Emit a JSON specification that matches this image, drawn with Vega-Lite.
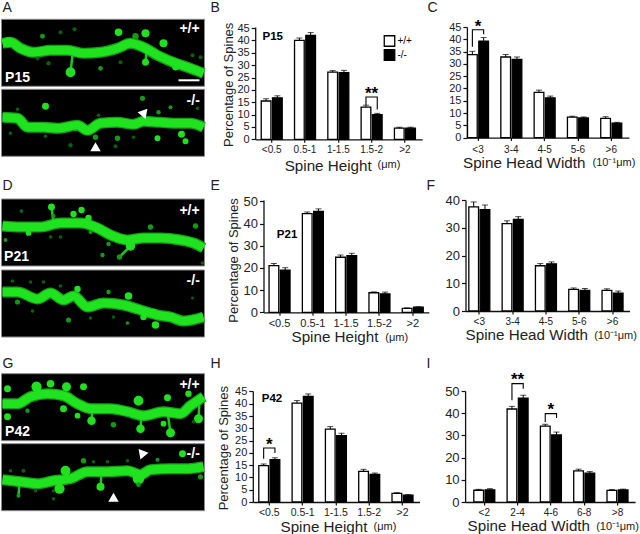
{"$schema":"https://vega.github.io/schema/vega-lite/v6.json","padding":{"left":-19.5,"top":0,"right":0,"bottom":0},"background":"white","config":{"font":"Liberation Sans","view":{"stroke":null},"axis":{"grid":false,"domainColor":"#111","domainWidth":1.3,"tickColor":"#111","tickWidth":1.2,"labelColor":"#222","titleColor":"#222","titleFontWeight":"normal","labelOverlap":false}},
"datasets":{
"bars":[
{"panel":"B","cat":"<0.5","geno":"+/+","val":15.5,"top":16.4},{"panel":"B","cat":"<0.5","geno":"-/-","val":16.8,"top":17.6},{"panel":"B","cat":"0.5-1","geno":"+/+","val":40,"top":41},{"panel":"B","cat":"0.5-1","geno":"-/-","val":42,"top":43.2},{"panel":"B","cat":"1-1.5","geno":"+/+","val":27.2,"top":27.8},{"panel":"B","cat":"1-1.5","geno":"-/-","val":27,"top":27.9},{"panel":"B","cat":"1.5-2","geno":"+/+","val":13,"top":13.8},{"panel":"B","cat":"1.5-2","geno":"-/-","val":10,"top":10.5},{"panel":"B","cat":">2","geno":"+/+","val":4.5,"top":4.9},{"panel":"B","cat":">2","geno":"-/-","val":4.5,"top":4.9},
{"panel":"C","cat":"<3","geno":"+/+","val":33.8,"top":35.1},{"panel":"C","cat":"<3","geno":"-/-","val":39.2,"top":40.7},{"panel":"C","cat":"3-4","geno":"+/+","val":32.8,"top":33.8},{"panel":"C","cat":"3-4","geno":"-/-","val":31.8,"top":32.8},{"panel":"C","cat":"4-5","geno":"+/+","val":18.4,"top":19.3},{"panel":"C","cat":"4-5","geno":"-/-","val":16.2,"top":16.9},{"panel":"C","cat":"5-6","geno":"+/+","val":8.3,"top":8.7},{"panel":"C","cat":"5-6","geno":"-/-","val":8,"top":8.4},{"panel":"C","cat":">6","geno":"+/+","val":7.8,"top":8.5},{"panel":"C","cat":">6","geno":"-/-","val":5.9,"top":6.2},
{"panel":"E","cat":"<0.5","geno":"+/+","val":21,"top":22},{"panel":"E","cat":"<0.5","geno":"-/-","val":19,"top":20.1},{"panel":"E","cat":"0.5-1","geno":"+/+","val":44.5,"top":45.2},{"panel":"E","cat":"0.5-1","geno":"-/-","val":45.5,"top":46.6},{"panel":"E","cat":"1-1.5","geno":"+/+","val":24.8,"top":25.8},{"panel":"E","cat":"1-1.5","geno":"-/-","val":25.5,"top":26.6},{"panel":"E","cat":"1.5-2","geno":"+/+","val":8.8,"top":9.2},{"panel":"E","cat":"1.5-2","geno":"-/-","val":8.3,"top":9.1},{"panel":"E","cat":">2","geno":"+/+","val":1.8,"top":2},{"panel":"E","cat":">2","geno":"-/-","val":2.3,"top":2.5},
{"panel":"F","cat":"<3","geno":"+/+","val":37.5,"top":39.3},{"panel":"F","cat":"<3","geno":"-/-","val":36.5,"top":38.2},{"panel":"F","cat":"3-4","geno":"+/+","val":31.5,"top":32.5},{"panel":"F","cat":"3-4","geno":"-/-","val":33,"top":34},{"panel":"F","cat":"4-5","geno":"+/+","val":16.3,"top":17.1},{"panel":"F","cat":"4-5","geno":"-/-","val":17,"top":17.7},{"panel":"F","cat":"5-6","geno":"+/+","val":7.8,"top":8.3},{"panel":"F","cat":"5-6","geno":"-/-","val":7.4,"top":8.1},{"panel":"F","cat":">6","geno":"+/+","val":7.4,"top":8},{"panel":"F","cat":">6","geno":"-/-","val":6.4,"top":7.2},
{"panel":"H","cat":"<0.5","geno":"+/+","val":14.8,"top":15.5},{"panel":"H","cat":"<0.5","geno":"-/-","val":17.2,"top":18},{"panel":"H","cat":"0.5-1","geno":"+/+","val":40.3,"top":41.3},{"panel":"H","cat":"0.5-1","geno":"-/-","val":43,"top":44},{"panel":"H","cat":"1-1.5","geno":"+/+","val":29.7,"top":30.7},{"panel":"H","cat":"1-1.5","geno":"-/-","val":27,"top":28},{"panel":"H","cat":"1.5-2","geno":"+/+","val":12.5,"top":13.3},{"panel":"H","cat":"1.5-2","geno":"-/-","val":11.2,"top":11.8},{"panel":"H","cat":">2","geno":"+/+","val":3.5,"top":3.8},{"panel":"H","cat":">2","geno":"-/-","val":2.8,"top":3},
{"panel":"I","cat":"<2","geno":"+/+","val":5.3,"top":5.7},{"panel":"I","cat":"<2","geno":"-/-","val":5.5,"top":6},{"panel":"I","cat":"2-4","geno":"+/+","val":41.9,"top":43.1},{"panel":"I","cat":"2-4","geno":"-/-","val":46.8,"top":48.1},{"panel":"I","cat":"4-6","geno":"+/+","val":34.2,"top":35},{"panel":"I","cat":"4-6","geno":"-/-","val":30.2,"top":31.5},{"panel":"I","cat":"6-8","geno":"+/+","val":14,"top":14.8},{"panel":"I","cat":"6-8","geno":"-/-","val":13,"top":13.7},{"panel":"I","cat":">8","geno":"+/+","val":5.2,"top":5.6},{"panel":"I","cat":">8","geno":"-/-","val":5.4,"top":5.8}],
"brackets":[
{"panel":"B","br":"1","cat":"1.5-2","geno":"+/+","y":13.9,"ord":1},{"panel":"B","br":"1","cat":"1.5-2","geno":"+/+","y":17.1,"ord":2},{"panel":"B","br":"1","cat":"1.5-2","geno":"-/-","y":17.1,"ord":3},{"panel":"B","br":"1","cat":"1.5-2","geno":"-/-","y":12.1,"ord":4},
{"panel":"C","br":"1","cat":"<3","geno":"+/+","y":37,"ord":1},{"panel":"C","br":"1","cat":"<3","geno":"+/+","y":43.9,"ord":2},{"panel":"C","br":"1","cat":"<3","geno":"-/-","y":43.9,"ord":3},{"panel":"C","br":"1","cat":"<3","geno":"-/-","y":42,"ord":4},
{"panel":"H","br":"1","cat":"<0.5","geno":"+/+","y":17.6,"ord":1},{"panel":"H","br":"1","cat":"<0.5","geno":"+/+","y":22,"ord":2},{"panel":"H","br":"1","cat":"<0.5","geno":"-/-","y":22,"ord":3},{"panel":"H","br":"1","cat":"<0.5","geno":"-/-","y":20,"ord":4},
{"panel":"I","br":"1","cat":"2-4","geno":"+/+","y":45.8,"ord":1},{"panel":"I","br":"1","cat":"2-4","geno":"+/+","y":53.3,"ord":2},{"panel":"I","br":"1","cat":"2-4","geno":"-/-","y":53.3,"ord":3},{"panel":"I","br":"1","cat":"2-4","geno":"-/-","y":51,"ord":4},
{"panel":"I","br":"2","cat":"4-6","geno":"+/+","y":36,"ord":1},{"panel":"I","br":"2","cat":"4-6","geno":"+/+","y":39.8,"ord":2},{"panel":"I","br":"2","cat":"4-6","geno":"-/-","y":39.8,"ord":3},{"panel":"I","br":"2","cat":"4-6","geno":"-/-","y":37.8,"ord":4}],
"stars":[{"panel":"B","cat":"1.5-2","y":18.4,"label":"**"},{"panel":"C","cat":"<3","y":45,"label":"*"},{"panel":"H","cat":"<0.5","y":23.4,"label":"*"},{"panel":"I","cat":"2-4","y":54.8,"label":"**"},{"panel":"I","cat":"4-6","y":41.3,"label":"*"}],
"row1":[
{"type":"frame","x":0,"x2":209.3,"y":0,"y2":177},{"type":"image","x":1,"x2":204,"y":19,"y2":86},{"type":"image","x":1,"x2":204,"y":89,"y2":156},
{"type":"shaft","seg":"a","x":2,"y":43},{"type":"shaft","seg":"a","x":10,"y":42},{"type":"shaft","seg":"a","x":20,"y":48},{"type":"shaft","seg":"a","x":33,"y":52},{"type":"shaft","seg":"a","x":50,"y":50},{"type":"shaft","seg":"a","x":67,"y":50},{"type":"shaft","seg":"a","x":83,"y":53},{"type":"shaft","seg":"a","x":100,"y":52},{"type":"shaft","seg":"a","x":117,"y":48},{"type":"shaft","seg":"a","x":130,"y":43},{"type":"shaft","seg":"a","x":143,"y":47},{"type":"shaft","seg":"a","x":157,"y":55},{"type":"shaft","seg":"a","x":173,"y":62},{"type":"shaft","seg":"a","x":190,"y":68},{"type":"shaft","seg":"a","x":203,"y":73},
{"type":"shaft","seg":"b","x":2,"y":117},{"type":"shaft","seg":"b","x":17,"y":118},{"type":"shaft","seg":"b","x":27,"y":127},{"type":"shaft","seg":"b","x":43,"y":127},{"type":"shaft","seg":"b","x":57,"y":128},{"type":"shaft","seg":"b","x":77,"y":125},{"type":"shaft","seg":"b","x":87,"y":130},{"type":"shaft","seg":"b","x":100,"y":123},{"type":"shaft","seg":"b","x":117,"y":122},{"type":"shaft","seg":"b","x":133,"y":124},{"type":"shaft","seg":"b","x":143,"y":121},{"type":"shaft","seg":"b","x":160,"y":122},{"type":"shaft","seg":"b","x":177,"y":123},{"type":"shaft","seg":"b","x":190,"y":123},{"type":"shaft","seg":"b","x":203,"y":127},
{"type":"neck","seg":"n1","x":70,"y":72},{"type":"neck","seg":"n1","x":72,"y":55},{"type":"neck","seg":"n2","x":145,"y":62},{"type":"neck","seg":"n2","x":146,"y":50},
{"type":"spine","x":8,"y":42,"area":60,"level":"bright"},{"type":"spine","x":70,"y":72,"area":60,"level":"bright"},{"type":"spine","x":118,"y":32,"area":35,"level":"bright"},{"type":"spine","x":145,"y":33,"area":40,"level":"bright"},{"type":"spine","x":135,"y":36,"area":25,"level":"mid"},{"type":"spine","x":163,"y":43,"area":40,"level":"bright"},{"type":"spine","x":42,"y":36,"area":15,"level":"mid"},{"type":"spine","x":60,"y":32,"area":10,"level":"dim"},{"type":"spine","x":74,"y":29,"area":10,"level":"dim"},{"type":"spine","x":48,"y":63,"area":12,"level":"dim"},{"type":"spine","x":100,"y":68,"area":14,"level":"mid"},{"type":"spine","x":120,"y":62,"area":10,"level":"dim"},{"type":"spine","x":145,"y":62,"area":30,"level":"bright"},{"type":"spine","x":192,"y":55,"area":10,"level":"dim"},{"type":"spine","x":200,"y":57,"area":10,"level":"dim"},{"type":"spine","x":37,"y":58,"area":10,"level":"dim"},{"type":"spine","x":175,"y":67,"area":25,"level":"bright"},
{"type":"spine","x":45,"y":106,"area":30,"level":"bright"},{"type":"spine","x":142,"y":98,"area":16,"level":"mid"},{"type":"spine","x":158,"y":112,"area":12,"level":"mid"},{"type":"spine","x":170,"y":107,"area":10,"level":"mid"},{"type":"spine","x":98,"y":115,"area":8,"level":"dim"},{"type":"spine","x":17,"y":109,"area":8,"level":"dim"},{"type":"spine","x":10,"y":133,"area":8,"level":"dim"},{"type":"spine","x":45,"y":136,"area":8,"level":"dim"},{"type":"spine","x":70,"y":145,"area":12,"level":"dim"},{"type":"spine","x":95,"y":137,"area":18,"level":"mid"},{"type":"spine","x":117,"y":138,"area":18,"level":"mid"},{"type":"spine","x":115,"y":146,"area":10,"level":"dim"},{"type":"spine","x":157,"y":138,"area":22,"level":"bright"},{"type":"spine","x":181,"y":134,"area":30,"level":"bright"},{"type":"spine","x":185,"y":141,"area":22,"level":"bright"},{"type":"spine","x":197,"y":108,"area":8,"level":"dim"},{"type":"spine","x":133,"y":137,"area":8,"level":"dim"},
{"type":"scalebar","x":178,"x2":199,"y":79,"y2":81},
{"type":"arrow","x":143,"y":113,"angle":90},{"type":"arrow","x":95,"y":148,"angle":190},
{"type":"overlay","x":189,"y":29,"label":"+/+"},{"type":"overlay","x":192.7,"y":101,"label":"-/-"},{"type":"overlay","x":17,"y":78,"label":"P15"},
{"type":"letter","x":2,"y":8,"label":"A"},{"type":"letter","x":210,"y":8,"label":"B"},{"type":"letter","x":427,"y":8,"label":"C"}],
"row2":[
{"type":"frame","x":0,"x2":226.7,"y":178,"y2":355},{"type":"image","x":1,"x2":204,"y":199,"y2":266},{"type":"image","x":1,"x2":204,"y":270,"y2":337},
{"type":"shaft","seg":"a","x":2,"y":226},{"type":"shaft","seg":"a","x":20,"y":227},{"type":"shaft","seg":"a","x":40,"y":227},{"type":"shaft","seg":"a","x":60,"y":223},{"type":"shaft","seg":"a","x":80,"y":223},{"type":"shaft","seg":"a","x":97,"y":228},{"type":"shaft","seg":"a","x":110,"y":235},{"type":"shaft","seg":"a","x":127,"y":240},{"type":"shaft","seg":"a","x":143,"y":238},{"type":"shaft","seg":"a","x":160,"y":238},{"type":"shaft","seg":"a","x":180,"y":240},{"type":"shaft","seg":"a","x":193,"y":243},{"type":"shaft","seg":"a","x":203,"y":248},
{"type":"shaft","seg":"b","x":2,"y":292},{"type":"shaft","seg":"b","x":17,"y":292},{"type":"shaft","seg":"b","x":37,"y":299},{"type":"shaft","seg":"b","x":50,"y":293},{"type":"shaft","seg":"b","x":63,"y":300},{"type":"shaft","seg":"b","x":73,"y":296},{"type":"shaft","seg":"b","x":87,"y":307},{"type":"shaft","seg":"b","x":103,"y":303},{"type":"shaft","seg":"b","x":123,"y":305},{"type":"shaft","seg":"b","x":140,"y":310},{"type":"shaft","seg":"b","x":157,"y":315},{"type":"shaft","seg":"b","x":170,"y":317},{"type":"shaft","seg":"b","x":183,"y":321},{"type":"shaft","seg":"b","x":203,"y":317},
{"type":"neck","seg":"n1","x":51,"y":207},{"type":"neck","seg":"n1","x":53,"y":223},{"type":"neck","seg":"n2","x":119,"y":257},{"type":"neck","seg":"n2","x":130,"y":246},
{"type":"spine","x":51,"y":207,"area":30,"level":"bright"},{"type":"spine","x":81,"y":210,"area":25,"level":"bright"},{"type":"spine","x":73,"y":214,"area":25,"level":"bright"},{"type":"spine","x":88,"y":218,"area":25,"level":"bright"},{"type":"spine","x":53,"y":216,"area":10,"level":"mid"},{"type":"spine","x":21,"y":211,"area":10,"level":"dim"},{"type":"spine","x":28,"y":233,"area":20,"level":"bright"},{"type":"spine","x":150,"y":227,"area":18,"level":"mid"},{"type":"spine","x":195,"y":226,"area":18,"level":"mid"},{"type":"spine","x":130,"y":246,"area":55,"level":"bright"},{"type":"spine","x":108,"y":244,"area":12,"level":"mid"},{"type":"spine","x":102,"y":255,"area":12,"level":"mid"},{"type":"spine","x":119,"y":257,"area":18,"level":"mid"},{"type":"spine","x":5,"y":240,"area":10,"level":"mid"},{"type":"spine","x":50,"y":237,"area":8,"level":"dim"},{"type":"spine","x":60,"y":237,"area":8,"level":"dim"},{"type":"spine","x":90,"y":232,"area":10,"level":"mid"},{"type":"spine","x":202,"y":263,"area":8,"level":"dim"},
{"type":"spine","x":77,"y":289,"area":25,"level":"bright"},{"type":"spine","x":128,"y":296,"area":35,"level":"bright"},{"type":"spine","x":108,"y":292,"area":12,"level":"mid"},{"type":"spine","x":17,"y":302,"area":16,"level":"mid"},{"type":"spine","x":12,"y":281,"area":8,"level":"dim"},{"type":"spine","x":30,"y":282,"area":8,"level":"dim"},{"type":"spine","x":43,"y":282,"area":8,"level":"dim"},{"type":"spine","x":60,"y":286,"area":8,"level":"dim"},{"type":"spine","x":32,"y":311,"area":8,"level":"dim"},{"type":"spine","x":68,"y":320,"area":16,"level":"mid"},{"type":"spine","x":90,"y":318,"area":8,"level":"dim"},{"type":"spine","x":113,"y":317,"area":8,"level":"dim"},{"type":"spine","x":127,"y":323,"area":8,"level":"mid"},{"type":"spine","x":155,"y":325,"area":35,"level":"bright"},{"type":"spine","x":143,"y":317,"area":25,"level":"bright"},{"type":"spine","x":153,"y":312,"area":25,"level":"bright"},{"type":"spine","x":192,"y":298,"area":6,"level":"dim"},
{"type":"overlay","x":189,"y":210.7,"label":"+/+"},{"type":"overlay","x":192.7,"y":281,"label":"-/-"},{"type":"overlay","x":16,"y":257,"label":"P21"},
{"type":"letter","x":2,"y":186,"label":"D"},{"type":"letter","x":210,"y":186,"label":"E"},{"type":"letter","x":426,"y":186,"label":"F"}],
"row3":[
{"type":"frame","x":0,"x2":207,"y":356,"y2":534},{"type":"image","x":1,"x2":204,"y":374,"y2":441},{"type":"image","x":1,"x2":204,"y":444,"y2":511},
{"type":"shaft","seg":"a","x":2,"y":404},{"type":"shaft","seg":"a","x":17,"y":404},{"type":"shaft","seg":"a","x":30,"y":397},{"type":"shaft","seg":"a","x":47,"y":394},{"type":"shaft","seg":"a","x":63,"y":396},{"type":"shaft","seg":"a","x":77,"y":404},{"type":"shaft","seg":"a","x":90,"y":409},{"type":"shaft","seg":"a","x":110,"y":409},{"type":"shaft","seg":"a","x":127,"y":412},{"type":"shaft","seg":"a","x":143,"y":416},{"type":"shaft","seg":"a","x":163,"y":412},{"type":"shaft","seg":"a","x":180,"y":414},{"type":"shaft","seg":"a","x":190,"y":406},{"type":"shaft","seg":"a","x":203,"y":397},
{"type":"shaft","seg":"b","x":2,"y":480},{"type":"shaft","seg":"b","x":20,"y":482},{"type":"shaft","seg":"b","x":37,"y":484},{"type":"shaft","seg":"b","x":53,"y":481},{"type":"shaft","seg":"b","x":70,"y":479},{"type":"shaft","seg":"b","x":87,"y":472},{"type":"shaft","seg":"b","x":107,"y":472},{"type":"shaft","seg":"b","x":127,"y":471},{"type":"shaft","seg":"b","x":140,"y":475},{"type":"shaft","seg":"b","x":150,"y":470},{"type":"shaft","seg":"b","x":170,"y":469},{"type":"shaft","seg":"b","x":187,"y":469},{"type":"shaft","seg":"b","x":203,"y":467},
{"type":"neck","seg":"n1","x":140,"y":429},{"type":"neck","seg":"n1","x":141,"y":414},{"type":"neck","seg":"n2","x":91,"y":421},{"type":"neck","seg":"n2","x":92,"y":408},{"type":"neck","seg":"n3","x":36,"y":387},{"type":"neck","seg":"n3","x":37,"y":396},{"type":"neck","seg":"n4","x":167,"y":412},{"type":"neck","seg":"n4","x":170,"y":433},{"type":"neck","seg":"n5","x":198,"y":419},{"type":"neck","seg":"n5","x":199,"y":402},{"type":"neck","seg":"n6","x":100,"y":487},{"type":"neck","seg":"n6","x":101,"y":473},{"type":"neck","seg":"n7","x":18,"y":496},{"type":"neck","seg":"n7","x":19,"y":483},
{"type":"spine","x":36,"y":387,"area":65,"level":"bright"},{"type":"spine","x":50,"y":384,"area":35,"level":"bright"},{"type":"spine","x":66,"y":387,"area":50,"level":"bright"},{"type":"spine","x":83,"y":387,"area":30,"level":"bright"},{"type":"spine","x":7,"y":389,"area":30,"level":"bright"},{"type":"spine","x":138,"y":401,"area":60,"level":"bright"},{"type":"spine","x":167,"y":398,"area":30,"level":"bright"},{"type":"spine","x":63,"y":409,"area":30,"level":"bright"},{"type":"spine","x":27,"y":411,"area":12,"level":"mid"},{"type":"spine","x":7,"y":417,"area":30,"level":"bright"},{"type":"spine","x":77,"y":416,"area":20,"level":"bright"},{"type":"spine","x":91,"y":421,"area":45,"level":"bright"},{"type":"spine","x":113,"y":425,"area":18,"level":"mid"},{"type":"spine","x":140,"y":429,"area":45,"level":"bright"},{"type":"spine","x":170,"y":433,"area":50,"level":"bright"},{"type":"spine","x":163,"y":424,"area":20,"level":"bright"},{"type":"spine","x":198,"y":419,"area":50,"level":"bright"},{"type":"spine","x":188,"y":394,"area":25,"level":"bright"},{"type":"spine","x":193,"y":422,"area":8,"level":"dim"},
{"type":"spine","x":65,"y":471,"area":60,"level":"bright"},{"type":"spine","x":59,"y":489,"area":65,"level":"bright"},{"type":"spine","x":138,"y":479,"area":80,"level":"bright"},{"type":"spine","x":83,"y":461,"area":18,"level":"mid"},{"type":"spine","x":100,"y":487,"area":40,"level":"bright"},{"type":"spine","x":23,"y":471,"area":10,"level":"dim"},{"type":"spine","x":10,"y":471,"area":8,"level":"dim"},{"type":"spine","x":18,"y":496,"area":10,"level":"mid"},{"type":"spine","x":35,"y":491,"area":8,"level":"dim"},{"type":"spine","x":53,"y":491,"area":8,"level":"dim"},{"type":"spine","x":127,"y":461,"area":8,"level":"dim"},{"type":"spine","x":157,"y":460,"area":10,"level":"mid"},{"type":"spine","x":182,"y":454,"area":30,"level":"bright"},{"type":"spine","x":200,"y":477,"area":16,"level":"mid"},{"type":"spine","x":107,"y":462,"area":8,"level":"dim"},{"type":"spine","x":138,"y":485,"area":14,"level":"mid"},{"type":"spine","x":53,"y":499,"area":8,"level":"dim"},{"type":"spine","x":93,"y":462,"area":8,"level":"dim"},
{"type":"arrow","x":142,"y":454,"angle":110},{"type":"arrow","x":113,"y":499,"angle":10},
{"type":"overlay","x":189,"y":385.7,"label":"+/+"},{"type":"overlay","x":192.7,"y":454,"label":"-/-"},{"type":"overlay","x":17,"y":432,"label":"P42"},
{"type":"letter","x":2,"y":364,"label":"G"},{"type":"letter","x":210,"y":364,"label":"H"},{"type":"letter","x":426,"y":364,"label":"I"}]
},
"vconcat":[
{"hconcat":[
{"width":209.3,"height":112.3,"data":{"name":"row1"},"encoding":{"x":{"field":"x","type":"quantitative","axis":null,"scale":{"domain":[0,209.3],"nice":false,"zero":false}},"y":{"field":"y","type":"quantitative","axis":null,"scale":{"domain":[26.7,139],"reverse":true,"nice":false,"zero":false}}},
"layer":[
{"transform":[{"filter":"datum.type=='frame'"}],"mark":{"type":"rect","fill":"white","opacity":0},"encoding":{"x2":{"field":"x2"},"y2":{"field":"y2"}}},
{"transform":[{"filter":"datum.type=='image'"}],"mark":{"type":"rect","fill":"black","stroke":"#8a8a8a","strokeWidth":1},"encoding":{"x2":{"field":"x2"},"y2":{"field":"y2"}}},
{"transform":[{"filter":"datum.type=='shaft'"}],"mark":{"type":"line","interpolate":"monotone","color":"#12a012","strokeWidth":11,"strokeCap":"butt"},"encoding":{"detail":{"field":"seg"}}},
{"transform":[{"filter":"datum.type=='neck'"}],"mark":{"type":"line","color":"#18c818","strokeWidth":2.5},"encoding":{"detail":{"field":"seg"}}},
{"transform":[{"filter":"datum.type=='spine'"}],"mark":{"type":"point","filled":true,"opacity":1},"encoding":{"size":{"field":"area","type":"quantitative","legend":null,"scale":{"domain":[0,80],"range":[0,130]}},"color":{"field":"level","type":"nominal","legend":null,"scale":{"domain":["bright","mid","dim"],"range":["#20e020","#149a14","#0b5f0b"]}}}},
{"transform":[{"filter":"datum.type=='shaft'"}],"mark":{"type":"line","interpolate":"monotone","color":"#1fe31f","strokeWidth":8.5,"strokeCap":"butt"},"encoding":{"detail":{"field":"seg"}}},
{"transform":[{"filter":"datum.type=='scalebar'"}],"mark":{"type":"rect","fill":"white"},"encoding":{"x2":{"field":"x2"},"y2":{"field":"y2"}}},
{"transform":[{"filter":"datum.type=='arrow'"}],"mark":{"type":"point","shape":"triangle","filled":true,"color":"white","opacity":1,"size":110},"encoding":{"angle":{"field":"angle","type":"quantitative","legend":null,"scale":{"type":"identity"}}}},
{"transform":[{"filter":"datum.type=='overlay'"}],"mark":{"type":"text","color":"white","fontWeight":"bold","fontSize":14,"align":"center","baseline":"middle"},"encoding":{"text":{"field":"label"}}},
{"transform":[{"filter":"datum.type=='letter'"}],"mark":{"type":"text","color":"#222","fontSize":14,"align":"left","baseline":"middle"},"encoding":{"text":{"field":"label"}}}
]},
{"width":167,"height":112.3,"data":{"name":"bars"},"transform":[{"filter":"datum.panel=='B'"}],
"encoding":{"x":{"field":"cat","type":"nominal","sort":null,"scale":{"domain":["<0.5","0.5-1","1-1.5","1.5-2",">2"],"paddingInner":0.37,"paddingOuter":0.1925,"align":0.47},"axis":{"labelAngle":0,"tickSize":3,"labelPadding":2,"labelFontSize":10,"title":"Spine Height","titleFontSize":15.2,"titleX":72.5,"titleY":26,"titleBaseline":"middle"}}},
"layer":[
{"mark":{"type":"bar","stroke":"black","strokeWidth":1.3},"encoding":{"xOffset":{"field":"geno","scale":{"domain":["+/+","-/-"],"paddingInner":0.14}},"y":{"field":"val","type":"quantitative","scale":{"domain":[0,45.45],"nice":false},"axis":{"values":[0,5,10,15,20,25,30,35,40,45],"tickSize":4,"labelFontSize":11,"labelPadding":2,"title":"Percentage of Spines","titleFontSize":13,"titleX":-27,"titleY":57.3,"titleBaseline":"middle"}},"fill":{"field":"geno","type":"nominal","scale":{"domain":["+/+","-/-"],"range":["white","black"]},"legend":{"orient":"none","legendX":383,"legendY":8,"title":null,"symbolType":"square","symbolSize":110,"symbolStrokeColor":"black","symbolStrokeWidth":1.3,"labelFontSize":10,"labelOffset":2,"rowPadding":-3}}}},
{"mark":{"type":"rule","color":"black","strokeWidth":1},"encoding":{"xOffset":{"field":"geno","scale":{"domain":["+/+","-/-"],"paddingInner":0.14}},"y":{"field":"val","type":"quantitative","axis":{"values":[0,5,10,15,20,25,30,35,40,45]}},"y2":{"field":"top"}}},
{"mark":{"type":"tick","color":"black","size":6,"thickness":1},"encoding":{"xOffset":{"field":"geno","scale":{"domain":["+/+","-/-"],"paddingInner":0.14}},"y":{"field":"top","type":"quantitative","axis":{"values":[0,5,10,15,20,25,30,35,40,45]}}}},
{"data":{"name":"brackets"},"transform":[{"filter":"datum.panel=='B'"}],"mark":{"type":"line","color":"black","strokeWidth":1.1},"encoding":{"xOffset":{"field":"geno","scale":{"domain":["+/+","-/-"],"paddingInner":0.14}},"y":{"field":"y","type":"quantitative","axis":{"values":[0,5,10,15,20,25,30,35,40,45]}},"detail":{"field":"br"},"order":{"field":"ord"}}},
{"data":{"name":"stars"},"transform":[{"filter":"datum.panel=='B'"}],"mark":{"type":"text","fontSize":17,"fontWeight":"bold","color":"black","baseline":"middle"},"encoding":{"y":{"field":"y","type":"quantitative","axis":{"values":[0,5,10,15,20,25,30,35,40,45]}},"text":{"field":"label"}}},
{"data":{"values":[{"cat":">2","y":-10.6,"label":"(μm)"}]},"mark":{"type":"text","fontSize":11,"color":"#222","dx":-16,"baseline":"middle"},"encoding":{"y":{"field":"y","type":"quantitative","axis":{"values":[0,5,10,15,20,25,30,35,40,45]}},"text":{"field":"label"}}},
{"data":{"values":[{"cat":"<0.5","y":41.4,"label":"P15"}]},"mark":{"type":"text","fontSize":11.5,"fontWeight":"bold","color":"black","dx":1,"baseline":"middle"},"encoding":{"y":{"field":"y","type":"quantitative","axis":{"values":[0,5,10,15,20,25,30,35,40,45]}},"text":{"field":"label"}}}
]},
{"width":162,"height":110.6,"data":{"name":"bars"},"transform":[{"filter":"datum.panel=='C'"}],
"encoding":{"x":{"field":"cat","type":"nominal","sort":null,"scale":{"domain":["<3","3-4","4-5","5-6",">6"],"paddingInner":0.37,"paddingOuter":0.117,"align":0.08},"axis":{"labelAngle":0,"tickSize":3,"labelPadding":4,"labelFontSize":10,"title":"Spine Head Width","titleFontSize":15.2,"titleX":56.8,"titleY":25,"titleBaseline":"middle"}}},
"layer":[
{"mark":{"type":"bar","stroke":"black","strokeWidth":1.3},"encoding":{"xOffset":{"field":"geno","scale":{"domain":["+/+","-/-"],"paddingInner":0.14}},"y":{"field":"val","type":"quantitative","scale":{"domain":[0,45],"nice":false},"axis":{"values":[0,5,10,15,20,25,30,35,40,45],"tickSize":4,"labelFontSize":11,"labelPadding":2,"title":null}},"fill":{"field":"geno","type":"nominal","scale":{"domain":["+/+","-/-"],"range":["white","black"]},"legend":null}}},
{"mark":{"type":"rule","color":"black","strokeWidth":1},"encoding":{"xOffset":{"field":"geno","scale":{"domain":["+/+","-/-"],"paddingInner":0.14}},"y":{"field":"val","type":"quantitative","axis":{"values":[0,5,10,15,20,25,30,35,40,45]}},"y2":{"field":"top"}}},
{"mark":{"type":"tick","color":"black","size":6,"thickness":1},"encoding":{"xOffset":{"field":"geno","scale":{"domain":["+/+","-/-"],"paddingInner":0.14}},"y":{"field":"top","type":"quantitative","axis":{"values":[0,5,10,15,20,25,30,35,40,45]}}}},
{"data":{"name":"brackets"},"transform":[{"filter":"datum.panel=='C'"}],"mark":{"type":"line","color":"black","strokeWidth":1.1},"encoding":{"xOffset":{"field":"geno","scale":{"domain":["+/+","-/-"],"paddingInner":0.14}},"y":{"field":"y","type":"quantitative","axis":{"values":[0,5,10,15,20,25,30,35,40,45]}},"detail":{"field":"br"},"order":{"field":"ord"}}},
{"data":{"name":"stars"},"transform":[{"filter":"datum.panel=='C'"}],"mark":{"type":"text","fontSize":17,"fontWeight":"bold","color":"black","baseline":"middle"},"encoding":{"y":{"field":"y","type":"quantitative","axis":{"values":[0,5,10,15,20,25,30,35,40,45]}},"text":{"field":"label"}}},
{"data":{"values":[{"cat":">6","y":-10.4,"label":"(10⁻¹μm)"}]},"mark":{"type":"text","fontSize":11,"color":"#222","dx":2.7,"baseline":"middle"},"encoding":{"y":{"field":"y","type":"quantitative","axis":{"values":[0,5,10,15,20,25,30,35,40,45]}},"text":{"field":"label"}}}
]}
],"spacing":44.7,"bounds":"flush"},
{"hconcat":[
{"width":226.7,"height":112.3,"data":{"name":"row2"},"encoding":{"x":{"field":"x","type":"quantitative","axis":null,"scale":{"domain":[0,226.7],"nice":false,"zero":false}},"y":{"field":"y","type":"quantitative","axis":null,"scale":{"domain":[200,312.3],"reverse":true,"nice":false,"zero":false}}},
"layer":[
{"transform":[{"filter":"datum.type=='frame'"}],"mark":{"type":"rect","fill":"white","opacity":0},"encoding":{"x2":{"field":"x2"},"y2":{"field":"y2"}}},
{"transform":[{"filter":"datum.type=='image'"}],"mark":{"type":"rect","fill":"black","stroke":"#8a8a8a","strokeWidth":1},"encoding":{"x2":{"field":"x2"},"y2":{"field":"y2"}}},
{"transform":[{"filter":"datum.type=='shaft'"}],"mark":{"type":"line","interpolate":"monotone","color":"#12a012","strokeWidth":11,"strokeCap":"butt"},"encoding":{"detail":{"field":"seg"}}},
{"transform":[{"filter":"datum.type=='neck'"}],"mark":{"type":"line","color":"#18c818","strokeWidth":2.5},"encoding":{"detail":{"field":"seg"}}},
{"transform":[{"filter":"datum.type=='spine'"}],"mark":{"type":"point","filled":true,"opacity":1},"encoding":{"size":{"field":"area","type":"quantitative","legend":null,"scale":{"domain":[0,80],"range":[0,130]}},"color":{"field":"level","type":"nominal","legend":null,"scale":{"domain":["bright","mid","dim"],"range":["#20e020","#149a14","#0b5f0b"]}}}},
{"transform":[{"filter":"datum.type=='shaft'"}],"mark":{"type":"line","interpolate":"monotone","color":"#1fe31f","strokeWidth":8.5,"strokeCap":"butt"},"encoding":{"detail":{"field":"seg"}}},
{"transform":[{"filter":"datum.type=='overlay'"}],"mark":{"type":"text","color":"white","fontWeight":"bold","fontSize":14,"align":"center","baseline":"middle"},"encoding":{"text":{"field":"label"}}},
{"transform":[{"filter":"datum.type=='letter'"}],"mark":{"type":"text","color":"#222","fontSize":14,"align":"left","baseline":"middle"},"encoding":{"text":{"field":"label"}}}
]},
{"width":165.3,"height":112.3,"data":{"name":"bars"},"transform":[{"filter":"datum.panel=='E'"}],
"encoding":{"x":{"field":"cat","type":"nominal","sort":null,"scale":{"domain":["<0.5","0.5-1","1-1.5","1.5-2",">2"],"paddingInner":0.37,"paddingOuter":0.167,"align":0.5},"axis":{"labelAngle":0,"tickSize":3,"labelPadding":2,"labelFontSize":11,"title":"Spine Height","titleFontSize":15.2,"titleX":71,"titleY":23.7,"titleBaseline":"middle"}}},
"layer":[
{"mark":{"type":"bar","stroke":"black","strokeWidth":1.3},"encoding":{"xOffset":{"field":"geno","scale":{"domain":["+/+","-/-"],"paddingInner":0.14}},"y":{"field":"val","type":"quantitative","scale":{"domain":[0,50.6],"nice":false},"axis":{"values":[0,10,20,30,40,50],"tickSize":4,"labelFontSize":13,"labelPadding":2,"title":"Percentage of Spines","titleFontSize":13,"titleX":-29.7,"titleY":60,"titleBaseline":"middle"}},"fill":{"field":"geno","type":"nominal","scale":{"domain":["+/+","-/-"],"range":["white","black"]},"legend":null}}},
{"mark":{"type":"rule","color":"black","strokeWidth":1},"encoding":{"xOffset":{"field":"geno","scale":{"domain":["+/+","-/-"],"paddingInner":0.14}},"y":{"field":"val","type":"quantitative","axis":{"values":[0,10,20,30,40,50]}},"y2":{"field":"top"}}},
{"mark":{"type":"tick","color":"black","size":6,"thickness":1},"encoding":{"xOffset":{"field":"geno","scale":{"domain":["+/+","-/-"],"paddingInner":0.14}},"y":{"field":"top","type":"quantitative","axis":{"values":[0,10,20,30,40,50]}}}},
{"data":{"values":[{"cat":">2","y":-11.8,"label":"(μm)"}]},"mark":{"type":"text","fontSize":11,"color":"#222","dx":-16,"baseline":"middle"},"encoding":{"y":{"field":"y","type":"quantitative","axis":{"values":[0,10,20,30,40,50]}},"text":{"field":"label"}}},
{"data":{"values":[{"cat":"<0.5","y":35,"label":"P21"}]},"mark":{"type":"text","fontSize":11.5,"fontWeight":"bold","color":"black","dx":7.5,"baseline":"middle"},"encoding":{"y":{"field":"y","type":"quantitative","axis":{"values":[0,10,20,30,40,50]}},"text":{"field":"label"}}}
]},
{"width":164,"height":111,"data":{"name":"bars"},"transform":[{"filter":"datum.panel=='F'"}],
"encoding":{"x":{"field":"cat","type":"nominal","sort":null,"scale":{"domain":["<3","3-4","4-5","5-6",">6"],"paddingInner":0.37,"paddingOuter":0.147,"align":0.34},"axis":{"labelAngle":0,"tickSize":3,"labelPadding":2,"labelFontSize":10,"title":"Spine Head Width","titleFontSize":15.2,"titleX":60.8,"titleY":23.3,"titleBaseline":"middle"}}},
"layer":[
{"mark":{"type":"bar","stroke":"black","strokeWidth":1.3},"encoding":{"xOffset":{"field":"geno","scale":{"domain":["+/+","-/-"],"paddingInner":0.14}},"y":{"field":"val","type":"quantitative","scale":{"domain":[0,40],"nice":false},"axis":{"values":[0,10,20,30,40],"tickSize":4,"labelFontSize":13,"labelPadding":2,"title":null}},"fill":{"field":"geno","type":"nominal","scale":{"domain":["+/+","-/-"],"range":["white","black"]},"legend":null}}},
{"mark":{"type":"rule","color":"black","strokeWidth":1},"encoding":{"xOffset":{"field":"geno","scale":{"domain":["+/+","-/-"],"paddingInner":0.14}},"y":{"field":"val","type":"quantitative","axis":{"values":[0,10,20,30,40]}},"y2":{"field":"top"}}},
{"mark":{"type":"tick","color":"black","size":6,"thickness":1},"encoding":{"xOffset":{"field":"geno","scale":{"domain":["+/+","-/-"],"paddingInner":0.14}},"y":{"field":"top","type":"quantitative","axis":{"values":[0,10,20,30,40]}}}},
{"data":{"values":[{"cat":">6","y":-9,"label":"(10⁻¹μm)"}]},"mark":{"type":"text","fontSize":11,"color":"#222","dx":3,"baseline":"middle"},"encoding":{"y":{"field":"y","type":"quantitative","axis":{"values":[0,10,20,30,40]}},"text":{"field":"label"}}}
]}
],"spacing":36,"bounds":"flush"},
{"hconcat":[
{"width":207,"height":111,"data":{"name":"row3"},"encoding":{"x":{"field":"x","type":"quantitative","axis":null,"scale":{"domain":[0,207],"nice":false,"zero":false}},"y":{"field":"y","type":"quantitative","axis":null,"scale":{"domain":[391.3,502.3],"reverse":true,"nice":false,"zero":false}}},
"layer":[
{"transform":[{"filter":"datum.type=='frame'"}],"mark":{"type":"rect","fill":"white","opacity":0},"encoding":{"x2":{"field":"x2"},"y2":{"field":"y2"}}},
{"transform":[{"filter":"datum.type=='image'"}],"mark":{"type":"rect","fill":"black","stroke":"#8a8a8a","strokeWidth":1},"encoding":{"x2":{"field":"x2"},"y2":{"field":"y2"}}},
{"transform":[{"filter":"datum.type=='shaft'"}],"mark":{"type":"line","interpolate":"monotone","color":"#12a012","strokeWidth":11,"strokeCap":"butt"},"encoding":{"detail":{"field":"seg"}}},
{"transform":[{"filter":"datum.type=='neck'"}],"mark":{"type":"line","color":"#18c818","strokeWidth":2.5},"encoding":{"detail":{"field":"seg"}}},
{"transform":[{"filter":"datum.type=='spine'"}],"mark":{"type":"point","filled":true,"opacity":1},"encoding":{"size":{"field":"area","type":"quantitative","legend":null,"scale":{"domain":[0,80],"range":[0,130]}},"color":{"field":"level","type":"nominal","legend":null,"scale":{"domain":["bright","mid","dim"],"range":["#20e020","#149a14","#0b5f0b"]}}}},
{"transform":[{"filter":"datum.type=='shaft'"}],"mark":{"type":"line","interpolate":"monotone","color":"#1fe31f","strokeWidth":8.5,"strokeCap":"butt"},"encoding":{"detail":{"field":"seg"}}},
{"transform":[{"filter":"datum.type=='arrow'"}],"mark":{"type":"point","shape":"triangle","filled":true,"color":"white","opacity":1,"size":110},"encoding":{"angle":{"field":"angle","type":"quantitative","legend":null,"scale":{"type":"identity"}}}},
{"transform":[{"filter":"datum.type=='overlay'"}],"mark":{"type":"text","color":"white","fontWeight":"bold","fontSize":14,"align":"center","baseline":"middle"},"encoding":{"text":{"field":"label"}}},
{"transform":[{"filter":"datum.type=='letter'"}],"mark":{"type":"text","color":"#222","fontSize":14,"align":"left","baseline":"middle"},"encoding":{"text":{"field":"label"}}}
]},
{"width":166.7,"height":111,"data":{"name":"bars"},"transform":[{"filter":"datum.panel=='H'"}],
"encoding":{"x":{"field":"cat","type":"nominal","sort":null,"scale":{"domain":["<0.5","0.5-1","1-1.5","1.5-2",">2"],"paddingInner":0.37,"paddingOuter":0.188,"align":0.48},"axis":{"labelAngle":0,"tickSize":3,"labelPadding":2,"labelFontSize":10.5,"title":"Spine Height","titleFontSize":15.2,"titleX":70.7,"titleY":24,"titleBaseline":"middle"}}},
"layer":[
{"mark":{"type":"bar","stroke":"black","strokeWidth":1.3},"encoding":{"xOffset":{"field":"geno","scale":{"domain":["+/+","-/-"],"paddingInner":0.14}},"y":{"field":"val","type":"quantitative","scale":{"domain":[0,45.2],"nice":false},"axis":{"values":[0,5,10,15,20,25,30,35,40,45],"tickSize":4,"labelFontSize":11,"labelPadding":2,"title":"Percentage of Spines","titleFontSize":13,"titleX":-29.3,"titleY":56.7,"titleBaseline":"middle"}},"fill":{"field":"geno","type":"nominal","scale":{"domain":["+/+","-/-"],"range":["white","black"]},"legend":null}}},
{"mark":{"type":"rule","color":"black","strokeWidth":1},"encoding":{"xOffset":{"field":"geno","scale":{"domain":["+/+","-/-"],"paddingInner":0.14}},"y":{"field":"val","type":"quantitative","axis":{"values":[0,5,10,15,20,25,30,35,40,45]}},"y2":{"field":"top"}}},
{"mark":{"type":"tick","color":"black","size":6,"thickness":1},"encoding":{"xOffset":{"field":"geno","scale":{"domain":["+/+","-/-"],"paddingInner":0.14}},"y":{"field":"top","type":"quantitative","axis":{"values":[0,5,10,15,20,25,30,35,40,45]}}}},
{"data":{"name":"brackets"},"transform":[{"filter":"datum.panel=='H'"}],"mark":{"type":"line","color":"black","strokeWidth":1.1},"encoding":{"xOffset":{"field":"geno","scale":{"domain":["+/+","-/-"],"paddingInner":0.14}},"y":{"field":"y","type":"quantitative","axis":{"values":[0,5,10,15,20,25,30,35,40,45]}},"detail":{"field":"br"},"order":{"field":"ord"}}},
{"data":{"name":"stars"},"transform":[{"filter":"datum.panel=='H'"}],"mark":{"type":"text","fontSize":17,"fontWeight":"bold","color":"black","baseline":"middle"},"encoding":{"y":{"field":"y","type":"quantitative","axis":{"values":[0,5,10,15,20,25,30,35,40,45]}},"text":{"field":"label"}}},
{"data":{"values":[{"cat":">2","y":-10.2,"label":"(μm)"}]},"mark":{"type":"text","fontSize":11,"color":"#222","dx":-17.6,"baseline":"middle"},"encoding":{"y":{"field":"y","type":"quantitative","axis":{"values":[0,5,10,15,20,25,30,35,40,45]}},"text":{"field":"label"}}},
{"data":{"values":[{"cat":"<0.5","y":42,"label":"P42"}]},"mark":{"type":"text","fontSize":11.5,"fontWeight":"bold","color":"black","dx":2.7,"baseline":"middle"},"encoding":{"y":{"field":"y","type":"quantitative","axis":{"values":[0,5,10,15,20,25,30,35,40,45]}},"text":{"field":"label"}}}
]},
{"width":170,"height":111,"data":{"name":"bars"},"transform":[{"filter":"datum.panel=='I'"}],
"encoding":{"x":{"field":"cat","type":"nominal","sort":null,"scale":{"domain":["<2","2-4","4-6","6-8",">8"],"paddingInner":0.37,"paddingOuter":0.2375,"align":0.55},"axis":{"labelAngle":0,"tickSize":3,"labelPadding":2,"labelFontSize":10,"title":"Spine Head Width","titleFontSize":15.2,"titleX":63.2,"titleY":23.4,"titleBaseline":"middle"}}},
"layer":[
{"mark":{"type":"bar","stroke":"black","strokeWidth":1.3},"encoding":{"xOffset":{"field":"geno","scale":{"domain":["+/+","-/-"],"paddingInner":0.14}},"y":{"field":"val","type":"quantitative","scale":{"domain":[0,50],"nice":false},"axis":{"values":[0,10,20,30,40,50],"tickSize":4,"labelFontSize":13,"labelPadding":2,"title":null}},"fill":{"field":"geno","type":"nominal","scale":{"domain":["+/+","-/-"],"range":["white","black"]},"legend":null}}},
{"mark":{"type":"rule","color":"black","strokeWidth":1},"encoding":{"xOffset":{"field":"geno","scale":{"domain":["+/+","-/-"],"paddingInner":0.14}},"y":{"field":"val","type":"quantitative","axis":{"values":[0,10,20,30,40,50]}},"y2":{"field":"top"}}},
{"mark":{"type":"tick","color":"black","size":6,"thickness":1},"encoding":{"xOffset":{"field":"geno","scale":{"domain":["+/+","-/-"],"paddingInner":0.14}},"y":{"field":"top","type":"quantitative","axis":{"values":[0,10,20,30,40,50]}}}},
{"data":{"name":"brackets"},"transform":[{"filter":"datum.panel=='I'"}],"mark":{"type":"line","color":"black","strokeWidth":1.1},"encoding":{"xOffset":{"field":"geno","scale":{"domain":["+/+","-/-"],"paddingInner":0.14}},"y":{"field":"y","type":"quantitative","axis":{"values":[0,10,20,30,40,50]}},"detail":{"field":"br"},"order":{"field":"ord"}}},
{"data":{"name":"stars"},"transform":[{"filter":"datum.panel=='I'"}],"mark":{"type":"text","fontSize":17,"fontWeight":"bold","color":"black","baseline":"middle"},"encoding":{"y":{"field":"y","type":"quantitative","axis":{"values":[0,10,20,30,40,50]}},"text":{"field":"label"}}},
{"data":{"values":[{"cat":">8","y":-11.3,"label":"(10⁻¹μm)"}]},"mark":{"type":"text","fontSize":11,"color":"#222","dx":0,"baseline":"middle"},"encoding":{"y":{"field":"y","type":"quantitative","axis":{"values":[0,10,20,30,40,50]}},"text":{"field":"label"}}}
]}
],"spacing":45.3,"bounds":"flush"}
],"spacing":0}
